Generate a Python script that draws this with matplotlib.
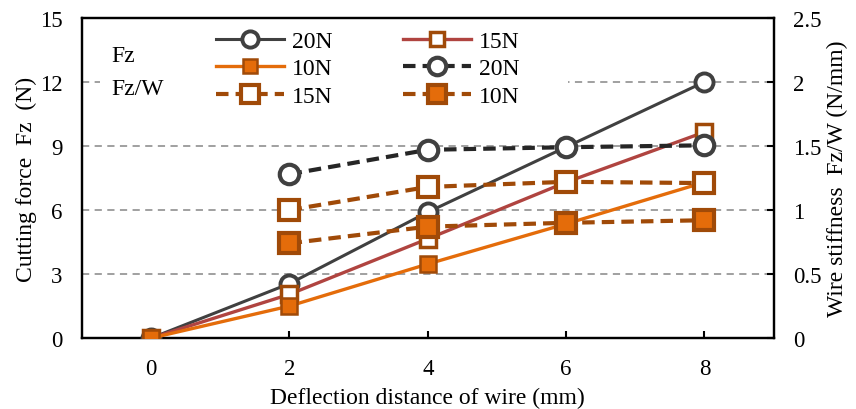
import numpy as np
import matplotlib.pyplot as plt
from matplotlib.patches import Rectangle

plt.rcParams['font.family'] = ['Liberation Serif', 'DejaVu Serif']

# data
dist = [0, 2, 4, 6, 8]
fz_20 = [0, 2.55, 5.9, 8.95, 12.0]
fz_15 = [0, 2.05, 4.65, 7.3, 9.65]
fz_10 = [0, 1.5, 3.47, 5.35, 7.3]

dist_w = [2, 4, 6, 8]
fzw_20 = [1.28, 1.47, 1.49, 1.505]
fzw_15 = [1.0, 1.18, 1.22, 1.21]
fzw_10 = [0.74, 0.87, 0.9, 0.92]

c_gray = '#404040'
c_red = '#B04440'
c_orange = '#E46C0A'
c_brown = '#A04A08'

fig = plt.figure(figsize=(8.56, 4.10), dpi=100)
ax = fig.add_axes([0.0958, 0.173, 0.808, 0.781])
ax2 = ax.twinx()

ax.set_xlim(-1, 9)
ax.set_ylim(0, 15)
ax2.set_ylim(0, 2.5)
ax.set_xticks([0, 2, 4, 6, 8])
ax.set_yticks([0, 3, 6, 9, 12, 15])
ax2.set_yticks([0, 0.5, 1, 1.5, 2, 2.5])
ax2.set_yticklabels(['0', '0.5', '1', '1.5', '2', '2.5'])

for a in (ax, ax2):
    a.tick_params(direction='in', labelsize=16.5, width=1.5, length=5)
    for s in a.spines.values():
        s.set_linewidth(1.6)
ax.tick_params(axis='y', length=0)
ax.tick_params(axis='x', pad=14)
ax.tick_params(axis='y', pad=14)
ax2.tick_params(axis='y', pad=14)

ax.yaxis.grid(True, color='#999999', linestyle=(0, (4, 3)), linewidth=1.3)
ax.set_axisbelow(True)

ax.set_xlabel('Deflection distance of wire (mm)', fontsize=17, labelpad=6)
ax.set_ylabel('Cutting force  Fz  (N)', fontsize=17, labelpad=2)
ax2.set_ylabel('Wire stiffness  Fz/W (N/mm)', fontsize=17, labelpad=4)

# Fz on the left axis, drawn on ax2 coordinates scaled (Fz/W*6 = Fz)
h1, = ax2.plot(dist, np.array(fz_20) / 6, color=c_gray, lw=2.2, marker='o', ms=13,
               mfc='white', mec=c_gray, mew=2.8, zorder=3)
h2, = ax2.plot(dist, np.array(fz_15) / 6, color=c_red, lw=2.4, marker='s', ms=11,
               mfc='white', mec=c_brown, mew=2.5, zorder=3)
h3, = ax2.plot(dist, np.array(fz_10) / 6, color=c_orange, lw=2.4, marker='s', ms=11,
               mfc=c_orange, mec=c_brown, mew=1.8, zorder=3)

h4, = ax2.plot(dist_w, fzw_20, color='#262626', lw=3, ls=(0, (3, 1.7)), marker='o', ms=14,
               mfc='white', mec=c_gray, mew=3, zorder=4)
h5, = ax2.plot(dist_w, fzw_15, color=c_brown, lw=3, ls=(0, (3, 1.7)), marker='s', ms=15,
               mfc='white', mec=c_brown, mew=3, zorder=4)
h6, = ax2.plot(dist_w, fzw_10, color=c_brown, lw=3, ls=(0, (3, 1.7)), marker='s', ms=15,
               mfc=c_orange, mec=c_brown, mew=3, zorder=4)

# white patch behind legend area
ax.add_patch(Rectangle((0.026, 0.71), 0.676, 0.27, transform=ax.transAxes,
                       facecolor='white', edgecolor='none', zorder=1.5))

leg = ax2.legend([h1, h3, h5, h2, h4, h6],
                 ['20N', '10N', '15N', '15N', '20N', '10N'],
                 ncol=2, loc='upper left', bbox_to_anchor=(0.18, 0.99),
                 frameon=False, fontsize=17, handlelength=2.9, handletextpad=0.3,
                 columnspacing=3.0, labelspacing=0.25, borderaxespad=0,
                 markerscale=0.9)
ax2.text(0.043, 0.884, 'Fz', transform=ax2.transAxes, fontsize=17, va='center')
ax2.text(0.043, 0.78, 'Fz/W', transform=ax2.transAxes, fontsize=17, va='center')

fig.savefig('out.png', dpi=100)
